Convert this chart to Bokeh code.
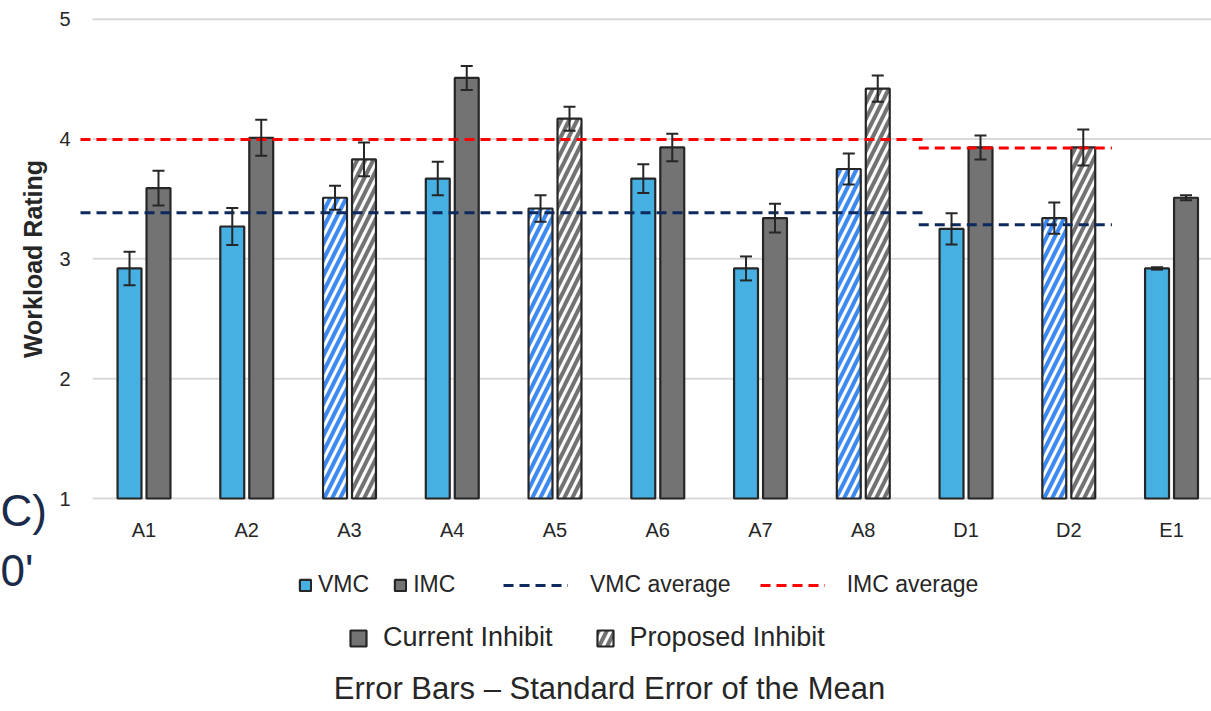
import numpy as np
from bokeh.plotting import figure
from bokeh.models import (ColumnDataSource, Range1d, LinearAxis, FixedTicker, Whisker,
                          TeeHead, Legend, LegendItem, Label)
from bokeh.embed import file_html
from bokeh.resources import INLINE

# ---------------- data ----------------
categories = ["A1", "A2", "A3", "A4", "A5", "A6", "A7", "A8", "D1", "D2", "E1"]
vmc = [2.92, 3.27, 3.51, 3.67, 3.42, 3.67, 2.92, 3.75, 3.25, 3.34, 2.92]
vmc_sem = [0.14, 0.155, 0.10, 0.14, 0.11, 0.12, 0.10, 0.13, 0.13, 0.13, 0.01]
imc = [3.59, 4.01, 3.83, 4.51, 4.17, 3.93, 3.34, 4.42, 3.93, 3.93, 3.51]
imc_sem = [0.145, 0.15, 0.14, 0.10, 0.10, 0.115, 0.12, 0.11, 0.10, 0.15, 0.02]
proposed = [False, False, True, False, True, False, False, True, False, True, False]
y_ticks = [1, 2, 3, 4, 5]

# group averages (A group spans A1..A8, D group spans D1..D2)
avg_x_start = [-0.618, 7.54]
avg_x_end = [7.62, 9.42]
vmc_avg = [3.385, 3.285]
imc_avg = [3.995, 3.925]

# ---------------- styles ----------------
FONT = "Liberation Sans"
TXT = "#262626"
VMC_COL = "#45B0E1"
IMC_COL = "#737373"
VMC_HATCH = "#3D8BF2"
EDGE = "#262626"
NAVY = "#0E2A5C"
RED = "#FF0000"
OFF = 0.141
BW = 0.233
W, H = 1211, 711

# the frame covers the whole canvas; axes are pinned inside it
p = figure(width=W, height=H, output_backend="svg", toolbar_location=None, title=None,
           x_range=Range1d(-1.3966, 10.389), y_range=Range1d(-0.7775, 5.156),
           x_axis_location=None, y_axis_location=None,
           min_border_left=0, min_border_right=0, min_border_top=0, min_border_bottom=0)
p.outline_line_color = None
p.background_fill_color = "white"
p.border_fill_color = "white"
p.grid.visible = False

n = len(categories)

# axes
xaxis = LinearAxis(ticker=FixedTicker(ticks=list(range(n))),
                   major_label_overrides={i: c for i, c in enumerate(categories)},
                   fixed_location=1)
xaxis.axis_line_color = None
xaxis.major_tick_line_color = None
xaxis.minor_tick_line_color = None
xaxis.major_tick_out = 0
xaxis.major_tick_in = 0
xaxis.major_label_standoff = 20
xaxis.major_label_text_font = FONT
xaxis.major_label_text_font_size = "20px"
xaxis.major_label_text_color = TXT
p.add_layout(xaxis, "below")

yaxis = LinearAxis(ticker=FixedTicker(ticks=y_ticks), axis_label="Workload Rating",
                   fixed_location=-0.618, bounds=(1, 5))
yaxis.axis_line_color = None
yaxis.major_tick_line_color = None
yaxis.minor_tick_line_color = None
yaxis.major_tick_out = 0
yaxis.major_tick_in = 0
yaxis.major_label_standoff = 10
yaxis.major_label_text_font = FONT
yaxis.major_label_text_font_size = "20px"
yaxis.major_label_text_color = TXT
yaxis.axis_label_text_font = FONT
yaxis.axis_label_text_font_style = "bold"
yaxis.axis_label_text_font_size = "25px"
yaxis.axis_label_text_color = TXT
yaxis.axis_label_standoff = 9
p.add_layout(yaxis, "left")

# gridlines (start at the category band edge)
p.segment(x0=[-0.5] * len(y_ticks), x1=[n + 1] * len(y_ticks), y0=y_ticks, y1=y_ticks,
          line_color="#D9D9D9", line_width=2)

# bars
x = np.arange(n)
prop = np.array(proposed)
vmc_a = np.array(vmc)
imc_a = np.array(imc)
vmc_e = np.array(vmc_sem)
imc_e = np.array(imc_sem)

src_vs = ColumnDataSource(dict(x=x[~prop] - OFF, top=vmc_a[~prop]))
src_vh = ColumnDataSource(dict(x=x[prop] - OFF, top=vmc_a[prop]))
src_is = ColumnDataSource(dict(x=x[~prop] + OFF, top=imc_a[~prop]))
src_ih = ColumnDataSource(dict(x=x[prop] + OFF, top=imc_a[prop]))

r_vmc = p.vbar(x="x", top="top", bottom=1, width=BW, source=src_vs,
               fill_color=VMC_COL, line_color=EDGE, line_width=2.2)
r_vmc_h = p.vbar(x="x", top="top", bottom=1, width=BW, source=src_vh,
                 fill_color="white", hatch_pattern="/", hatch_color=VMC_HATCH, hatch_weight=4,
                 hatch_scale=16, line_color=EDGE, line_width=2.2)
r_imc = p.vbar(x="x", top="top", bottom=1, width=BW, source=src_is,
               fill_color=IMC_COL, line_color=EDGE, line_width=2.2)
r_imc_h = p.vbar(x="x", top="top", bottom=1, width=BW, source=src_ih,
                 fill_color="white", hatch_pattern="/", hatch_color=IMC_COL, hatch_weight=4,
                 hatch_scale=16, line_color=EDGE, line_width=2.2)

# average lines
r_vavg = p.segment(x0=avg_x_start, x1=avg_x_end, y0=vmc_avg, y1=vmc_avg,
                   line_color=NAVY, line_width=3, line_dash="10 6")
r_iavg = p.segment(x0=avg_x_start, x1=avg_x_end, y0=imc_avg, y1=imc_avg,
                   line_color=RED, line_width=3, line_dash="10 6")

# error bars
wsrc = ColumnDataSource(dict(
    base=np.concatenate([x - OFF, x + OFF]),
    upper=np.concatenate([vmc_a + vmc_e, imc_a + imc_e]),
    lower=np.concatenate([vmc_a - vmc_e, imc_a - imc_e]),
))
w = Whisker(source=wsrc, base="base", upper="upper", lower="lower", dimension="height",
            line_color=EDGE, line_width=2, level="overlay",
            upper_head=TeeHead(size=12, line_color=EDGE, line_width=2),
            lower_head=TeeHead(size=12, line_color=EDGE, line_width=2))
p.add_layout(w)

common = dict(orientation="horizontal", padding=0, margin=0, border_line_color=None,
              background_fill_alpha=0, label_text_font=FONT, label_text_color=TXT)

legA = Legend(items=[LegendItem(label="VMC", renderers=[r_vmc]),
                     LegendItem(label="IMC", renderers=[r_imc])],
              location=(298, 113), glyph_width=14, glyph_height=14, label_standoff=6,
              spacing=24, label_text_font_size="23px", **common)
legB = Legend(items=[LegendItem(label="VMC average", renderers=[r_vavg]),
                     LegendItem(label="IMC average", renderers=[r_iavg])],
              location=(503, 113), glyph_width=65, glyph_height=14, label_standoff=22,
              spacing=29, label_text_font_size="23px", **common)
legC = Legend(items=[LegendItem(label="Current Inhibit", renderers=[r_imc]),
                     LegendItem(label="Proposed Inhibit", renderers=[r_imc_h])],
              location=(348, 58), glyph_width=20, glyph_height=20, label_standoff=15,
              spacing=42, label_text_font_size="27px", **common)
for lg in (legA, legB, legC):
    p.add_layout(lg)

p.add_layout(Label(x=609, y=23, x_units="screen", y_units="screen",
                   text="Error Bars \u2013 Standard Error of the Mean",
                   text_align="center", text_baseline="middle",
                   text_font=FONT, text_font_size="31px", text_color=TXT))
p.add_layout(Label(x=0, y=201, x_units="screen", y_units="screen", text="C)",
                   text_align="left", text_baseline="middle",
                   text_font=FONT, text_font_size="44px", text_color="#1B2B4B"))
p.add_layout(Label(x=0, y=141, x_units="screen", y_units="screen", text="0'",
                   text_align="left", text_baseline="middle",
                   text_font=FONT, text_font_size="44px", text_color="#1B2B4B"))

open("out.html", "w").write(file_html(p, INLINE))
